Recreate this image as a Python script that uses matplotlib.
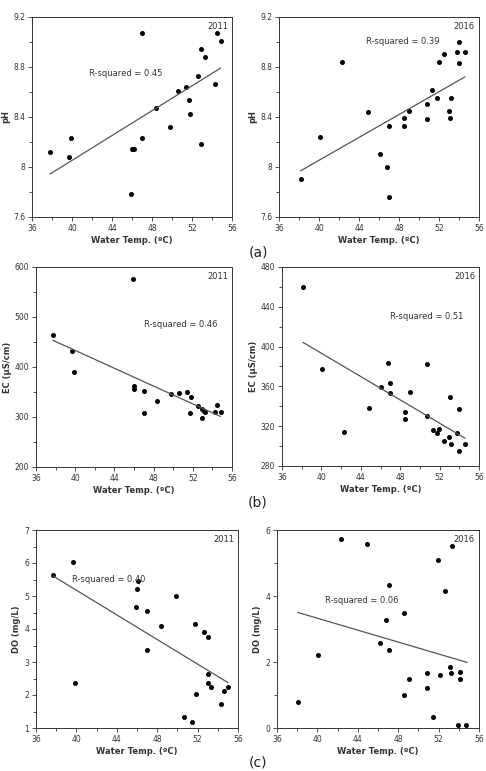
import matplotlib
matplotlib.use("Agg")
import matplotlib.pyplot as plt
from matplotlib.ticker import MultipleLocator, FormatStrFormatter

# --- data ---
ph11_t = [37.83, 39.7, 39.93, 47.03, 45.9, 46.0, 46.2, 47.03, 48.37, 49.8, 50.57,
          51.4, 51.67, 51.8, 52.57, 52.93, 52.93, 53.27, 54.27, 54.47, 54.87]
ph11_v = [8.12, 8.08, 8.23, 9.07, 7.78, 8.14, 8.14, 8.23, 8.47, 8.32, 8.61,
          8.64, 8.54, 8.42, 8.73, 8.94, 8.18, 8.88, 8.66, 9.07, 9.01]
ph11_fit_t = [37.83, 54.83]
ph11_fit_v = [7.945, 8.79]

ph16_t = [38.17, 40.07, 42.33, 44.93, 46.1, 46.8, 47.0, 47.0, 48.5, 48.5, 49.0, 50.77,
          50.77, 51.3, 51.77, 52.0, 52.47, 53.0, 53.07, 53.2, 53.77, 53.97, 53.97, 54.57]
ph16_v = [7.90, 8.24, 8.84, 8.44, 8.10, 8.00, 7.76, 8.33, 8.39, 8.33, 8.45, 8.50,
          8.38, 8.62, 8.55, 8.84, 8.90, 8.45, 8.39, 8.55, 8.92, 9.00, 8.83, 8.92]
ph16_fit_t = [38.17, 54.57]
ph16_fit_v = [7.97, 8.72]

ec11_t = [37.73, 39.67, 39.88, 45.86, 45.97, 46.03, 47.0, 47.0, 48.38, 49.78, 50.6,
          51.37, 51.68, 51.78, 52.56, 52.9, 52.93, 53.13, 53.2, 54.26, 54.47, 54.88]
ec11_v = [464, 431, 390, 575, 362, 357, 353, 309, 332, 346, 348,
          350, 308, 340, 323, 298, 316, 313, 310, 310, 325, 311]
ec11_fit_t = [37.73, 54.8]
ec11_fit_v = [453.3, 301.3]

ec16_t = [38.14, 40.03, 42.3, 44.88, 46.1, 46.78, 47.0, 47.0, 48.44, 48.44, 48.98, 50.7,
          50.75, 51.3, 51.76, 51.93, 52.44, 52.95, 53.05, 53.2, 53.76, 53.97, 53.97, 54.58]
ec16_v = [459.5, 377.7, 313.9, 338.7, 358.9, 383.7, 363.9, 353.5, 334.4, 327, 354.8, 382.7,
          330.3, 315.9, 313.6, 317, 305.2, 308.9, 349, 302, 312.9, 337, 295, 302]
ec16_fit_t = [38.14, 54.58]
ec16_fit_v = [404.2, 307.9]

do11_t = [37.72, 39.63, 39.9, 46.0, 46.1, 45.9, 47.02, 47.02, 48.41, 49.86, 50.65,
          51.45, 51.78, 51.87, 52.67, 53.06, 53.06, 53.06, 53.33, 54.35, 54.58, 54.98]
do11_v = [5.65, 6.03, 2.36, 5.22, 5.44, 4.68, 4.55, 3.35, 4.10, 4.99, 1.32,
          1.18, 4.15, 2.02, 3.91, 3.76, 2.65, 2.37, 2.23, 1.73, 2.12, 2.25]
do11_fit_t = [37.72, 54.98]
do11_fit_v = [5.60, 2.38]

do16_t = [38.08, 40.03, 42.31, 44.93, 46.15, 46.84, 47.07, 47.07, 48.56, 48.56, 49.09, 50.88,
          50.88, 51.4, 51.9, 52.13, 52.6, 53.09, 53.19, 53.32, 53.95, 54.15, 54.15, 54.74]
do16_v = [0.78, 2.21, 5.72, 5.59, 2.59, 3.28, 4.33, 2.36, 3.50, 0.99, 1.50, 1.66,
          1.20, 0.34, 5.09, 1.62, 4.14, 1.84, 1.66, 5.51, 0.09, 1.69, 1.50, 0.09]
do16_fit_t = [38.08, 54.8]
do16_fit_v = [3.50, 1.99]

r_squared = [0.45, 0.39, 0.46, 0.51, 0.40, 0.06]
years = ['2011', '2016', '2011', '2016', '2011', '2016']
panel_tags = ['(a)', '(b)', '(c)']

W, H = 486, 771
fig = plt.figure(figsize=(W / 100, H / 100), dpi=100)


def box(l, t, r, b):
    # pixel box -> figure fraction
    return [l / W, 1 - b / H, (r - l) / W, (b - t) / H]


panels = [
    # rect, x, y, fit x, fit y, ylabel, ylim, y major step, R-squared text pos
    (box(32, 17, 232, 217), ph11_t, ph11_v, ph11_fit_t, ph11_fit_v, 'pH',
     (7.6, 9.2), 0.4, (41.7, 8.745)),
    (box(279, 17, 479, 217), ph16_t, ph16_v, ph16_fit_t, ph16_fit_v, 'pH',
     (7.6, 9.2), 0.4, (44.7, 9.0)),
    (box(36, 267, 232, 467), ec11_t, ec11_v, ec11_fit_t, ec11_fit_v, 'EC (µS/cm)',
     (200, 600), 100, (47.0, 485)),
    (box(282, 267, 479, 466), ec16_t, ec16_v, ec16_fit_t, ec16_fit_v, 'EC (µS/cm)',
     (280, 480), 40, (47.0, 430)),
    (box(36, 530, 238, 728), do11_t, do11_v, do11_fit_t, do11_fit_v, 'DO (mg/L)',
     (1, 7), 1, (39.6, 5.49)),
    (box(277, 530, 479, 728), do16_t, do16_v, do16_fit_t, do16_fit_v, 'DO (mg/L)',
     (0, 6), 2, (40.8, 3.85)),
]

for i, (rect, xs, ys, fx, fy, ylab, ylim, ymaj, rpos) in enumerate(panels):
    ax = fig.add_axes(rect)
    ax.plot(xs, ys, 'o', color='black', markersize=3.6, markeredgewidth=0)
    ax.plot(fx, fy, '-', color='#555555', linewidth=0.9)
    ax.set_xlim(36, 56)
    ax.set_ylim(*ylim)
    ax.xaxis.set_major_locator(MultipleLocator(4))
    ax.xaxis.set_minor_locator(MultipleLocator(2))
    ax.yaxis.set_major_locator(MultipleLocator(ymaj))
    ax.yaxis.set_minor_locator(MultipleLocator(ymaj / 2))
    ax.yaxis.set_major_formatter(FormatStrFormatter('%g'))
    ax.tick_params(which='both', direction='out', top=False, right=False,
                   labelsize=5.5, colors='#333333', width=0.6, pad=2)
    ax.tick_params(which='major', length=3)
    ax.tick_params(which='minor', length=2)
    for s in ax.spines.values():
        s.set_linewidth(0.7)
        s.set_color('#333333')
    ax.set_xlabel('Water Temp. (ºC)', fontsize=6, fontweight='bold',
                  color='#333333', labelpad=2)
    ax.set_ylabel(ylab, fontsize=6, fontweight='bold', color='#333333', labelpad=2)
    ax.text(0.98, 0.95, years[i], transform=ax.transAxes, ha='right', va='center',
            fontsize=6, color='#333333')
    ax.text(rpos[0], rpos[1], 'R-squared = %.2f' % r_squared[i],
            ha='left', va='center', fontsize=6, color='#333333')

for tag, y in zip(panel_tags, [252, 502, 762]):
    fig.text(258 / W, 1 - y / H, tag, ha='center', va='center', fontsize=10,
             color='#222222')

fig.savefig('out.png', dpi=100)
